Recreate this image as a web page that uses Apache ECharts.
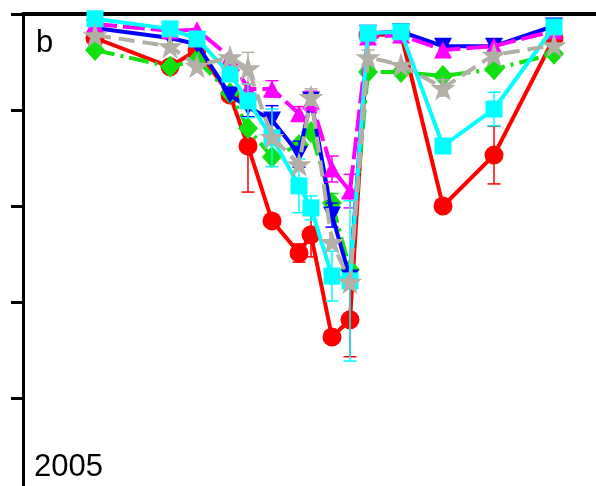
<!DOCTYPE html>
<html>
<head>
<meta charset="utf-8">
<script src="https://cdn.jsdelivr.net/npm/echarts@6/dist/echarts.min.js"></script>
<style>
  html, body { margin: 0; padding: 0; background: #ffffff; }
  #chart { width: 596px; height: 486px; }
</style>
</head>
<body>
<div id="chart"></div>
<script>
// Sampling dates (day of year, 2005)
const days = [124, 149, 158, 169, 175, 183, 192, 196, 203, 209, 215, 226, 240, 257, 277];

// Series values and their errors (0 = no error bar)
const redVals     = [95.0, 89.0, 92.5, 83.1, 72.5, 56.9, 50.2, 54.0, 32.7, 36.3, 95.6, 95.8, 60.0, 70.6, 95.0];
const redErr      = [0, 0, 0, 0, 9.6, 0, 1.9, 4.6, 0, 7.7, 0, 0, 0, 6.0, 0];

const greenVals   = [92.5, 89.0, 90.4, 83.5, 76.2, 70.2, 72.7, 75.4, 60.6, 46.7, 87.9, 87.9, 87.1, 88.5, 91.7];
const greenErr    = [0, 0, 0, 0, 0, 0, 0, 0, 2.0, 0, 0, 0, 0, 0, 0];

const blueVals    = [97.1, 95.0, 93.7, 83.1, 80.6, 77.9, 70.8, 82.1, 58.1, 45.0, 96.0, 96.3, 93.3, 93.3, 97.5];
const blueErr     = [0, 0, 0, 0, 2.0, 3.0, 2.7, 0, 2.5, 0, 0, 0, 0, 0, 0];

const magentaVals = [97.9, 96.5, 96.7, 91.0, 84.4, 84.4, 79.2, 81.9, 67.7, 63.1, 95.2, 95.6, 92.5, 93.3, 96.5];
const magentaErr  = [0, 0, 0, 0, 0, 1.7, 1.5, 2.0, 2.7, 3.5, 0, 0, 0, 0, 0];

const cyanVals    = [99.0, 96.9, 94.8, 87.5, 81.9, 74.2, 64.2, 59.6, 45.4, 44.4, 96.0, 96.3, 72.5, 80.2, 97.3];
const cyanErr     = [0, 0, 0, 0, 3.5, 6.0, 5.6, 2.5, 5.2, 16.7, 0, 0, 0, 3.5, 0];

const grayVals    = [95.6, 93.3, 89.2, 91.0, 88.7, 74.4, 68.7, 82.7, 52.5, 44.2, 91.0, 89.4, 84.6, 91.5, 93.5];
const grayErr     = [0, 0, 0, 0, 3.3, 0, 0, 1.7, 0, 0, 1.5, 0, 1.7, 0, 0];

const yTicks = [0, 20, 40, 60, 80, 100];

const STAR = 'path://M50,0 L61.2,34.5 L97.6,34.5 L68.2,55.9 L79.4,90.5 L50,69.1 L20.6,90.5 L31.8,55.9 L2.4,34.5 L38.8,34.5 Z';

function pairs(vals) {
  return days.map((d, i) => [d, vals[i]]);
}

function errData(vals, errs) {
  const out = [];
  days.forEach((d, i) => {
    if (errs[i] > 0) out.push([d, vals[i] - errs[i], vals[i] + errs[i]]);
  });
  return out;
}

function errSeries(vals, errs, color, z) {
  return {
    type: 'custom',
    z: z,
    silent: true,
    clip: false,
    data: errData(vals, errs),
    renderItem: function (params, api) {
      const x = api.value(0);
      const lo = api.coord([x, api.value(1)]);
      const hi = api.coord([x, api.value(2)]);
      const w = 6.5;
      const st = { stroke: color, lineWidth: 1.5 };
      return {
        type: 'group',
        children: [
          { type: 'line', shape: { x1: lo[0], y1: lo[1], x2: hi[0], y2: hi[1] }, style: st },
          { type: 'line', shape: { x1: lo[0] - w, y1: lo[1], x2: lo[0] + w, y2: lo[1] }, style: st },
          { type: 'line', shape: { x1: hi[0] - w, y1: hi[1], x2: hi[0] + w, y2: hi[1] }, style: st }
        ]
      };
    }
  };
}

function lineSeries(vals, color, symbol, size, dash, z, rotate) {
  return {
    type: 'line',
    z: z,
    data: pairs(vals),
    symbol: symbol,
    symbolSize: size,
    symbolRotate: rotate || 0,
    showAllSymbol: true,
    clip: false,
    animation: false,
    lineStyle: { color: color, width: 4, type: dash },
    itemStyle: { color: color, borderWidth: 0 }
  };
}

const chart = echarts.init(document.getElementById('chart'), null, { renderer: 'canvas' });

chart.setOption({
  animation: false,
  backgroundColor: '#ffffff',
  // plot area runs past the bottom edge of the page
  grid: { left: 23, width: 573, top: 14, height: 480, containLabel: false, outerBoundsMode: 'none' },
  xAxis: [
    {
      type: 'value', min: 100, max: 291,
      axisLine: { show: false }, axisTick: { show: false },
      axisLabel: { show: false }, splitLine: { show: false }
    },
    {
      type: 'value', position: 'top', min: 100, max: 291,
      axisLine: { show: true, lineStyle: { color: '#000', width: 4 } },
      axisTick: { show: false }, axisLabel: { show: false }, splitLine: { show: false }
    }
  ],
  yAxis: {
    type: 'value',
    min: yTicks[0], max: yTicks[yTicks.length - 1], interval: 20,
    axisLine: { show: true, lineStyle: { color: '#000', width: 3 } },
    axisTick: { show: true, inside: false, length: 12, lineStyle: { color: '#000', width: 3 } },
    axisLabel: { show: false },
    splitLine: { show: false }
  },
  graphic: [
    {
      type: 'text', left: 36, top: 28, z: 100,
      style: { text: 'b', font: '31px "Liberation Sans", Arial, sans-serif', fill: '#000' }
    },
    {
      type: 'text', left: 34, top: 452, z: 100,
      style: { text: '2005', font: '31px "Liberation Sans", Arial, sans-serif', fill: '#000' }
    }
  ],
  series: [
    errSeries(redVals, redErr, '#ff0000', 2),
    lineSeries(redVals, '#ff0000', 'circle', 19, 'solid', 2),
    errSeries(greenVals, greenErr, '#11e011', 3),
    lineSeries(greenVals, '#11e011', 'diamond', [20, 22], [20, 6, 3, 6], 3),
    errSeries(blueVals, blueErr, '#0000ff', 4),
    lineSeries(blueVals, '#0000ff', 'triangle', [18, 17], 'solid', 4, 180),
    errSeries(magentaVals, magentaErr, '#ff00ff', 5),
    lineSeries(magentaVals, '#ff00ff', 'triangle', [18, 17], [22, 6], 5),
    errSeries(cyanVals, cyanErr, '#00ffff', 6),
    lineSeries(cyanVals, '#00ffff', 'rect', 17, 'solid', 6),
    errSeries(grayVals, grayErr, '#b2afa7', 7),
    lineSeries(grayVals, '#b2afa7', STAR, 25, [16, 8], 7)
  ]
});
</script>
</body>
</html>
